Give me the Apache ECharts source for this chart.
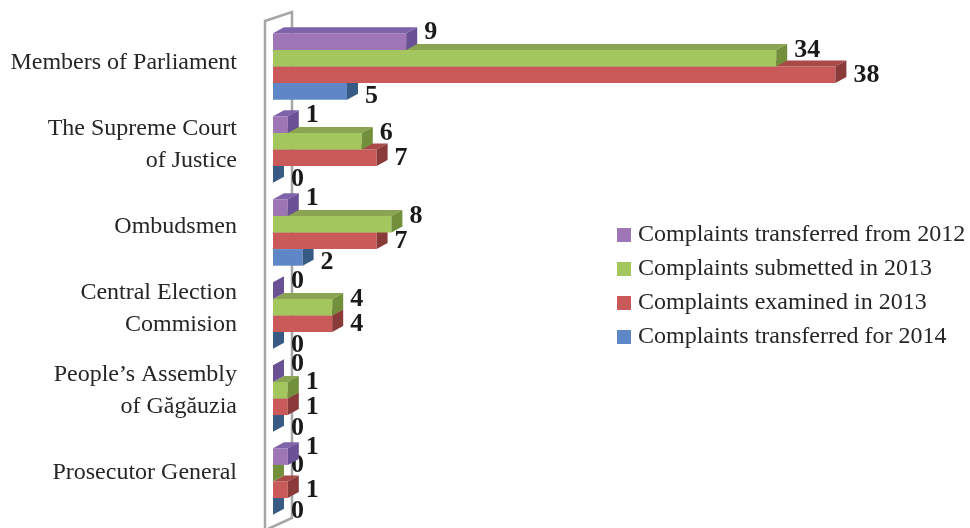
<!DOCTYPE html>
<html>
<head>
<meta charset="utf-8">
<script src="https://cdn.jsdelivr.net/npm/echarts@6/dist/echarts.min.js"></script>
<style>
  html, body { margin: 0; padding: 0; background: #ffffff; }
  #chart { width: 970px; height: 528px; }
</style>
</head>
<body>
<div id="chart"></div>
<script>
// Complaints handled, by institution
const categories = [
  'Members of Parliament',
  'The Supreme Court\nof Justice',
  'Ombudsmen',
  'Central Election\nCommision',
  'People\u2019s Assembly\nof G\u0103g\u0103uzia',
  'Prosecutor General'
];
const seriesNames = [
  'Complaints transferred from 2012',
  'Complaints submetted in 2013',
  'Complaints examined in 2013',
  'Complaints transferred for 2014'
];
const transferredFrom2012 = [9, 1, 1, 0, 0, 1];
const submitted2013       = [34, 6, 8, 4, 1, 0];
const examined2013        = [38, 7, 7, 4, 1, 1];
const transferredFor2014  = [5, 0, 2, 0, 0, 0];

const seriesValues = [transferredFrom2012, submitted2013, examined2013, transferredFor2014];

// face shades for each bar colour: front, top, side
const palette = [
  { front: '#9f76b5', top: '#7e63aa', side: '#6a5196' },
  { front: '#a3c65f', top: '#8ba452', side: '#72903c' },
  { front: '#c95a59', top: '#a84a48', side: '#8b3a3a' },
  { front: '#5f87c7', top: '#4a6e9e', side: '#375b85' }
];
const labelShift = [-9, -8, 0, 5];
const DEPTH_X = 11, DEPTH_Y = -6;
const GRID = { left: 273, top: 25, width: 592, height: 498 };
// the category names sit on the wall's middle depth, slightly above the bars
const LABEL_GRID = { left: 273, top: 22, width: 592, height: 492 };
const WALL = '#a6a6a6';
const SERIF = '"Liberation Serif", "Times New Roman", serif';

function barRenderer(idx) {
  return function (params, api) {
    const cat = api.value(0);
    const val = api.value(1);
    const base = api.coord([0, cat]);
    const end = api.coord([val, cat]);
    const band = api.size([0, 1])[1];
    const groupH = band * 0.8;
    const h = groupH / 4;
    const y0 = base[1] - groupH / 2 + idx * h;
    const y1 = y0 + h;
    const x0 = base[0];
    const x1 = end[0];
    const c = palette[idx];
    const children = [];
    if (x1 > x0) {
      children.push({
        type: 'rect',
        shape: { x: x0, y: y0, width: x1 - x0, height: h },
        style: { fill: c.front }
      });
      children.push({
        type: 'polygon',
        shape: { points: [[x0, y0], [x1, y0], [x1 + DEPTH_X, y0 + DEPTH_Y], [x0 + DEPTH_X, y0 + DEPTH_Y]] },
        style: { fill: c.top }
      });
    }
    children.push({
      type: 'polygon',
      shape: { points: [[x1, y0], [x1, y1], [x1 + DEPTH_X, y1 + DEPTH_Y], [x1 + DEPTH_X, y0 + DEPTH_Y]] },
      style: { fill: c.side }
    });
    children.push({
      type: 'text',
      style: {
        text: String(val),
        x: x1 + 18,
        y: y0 + h / 2 + labelShift[idx],
        align: 'left',
        verticalAlign: 'middle',
        font: 'bold 26px ' + SERIF,
        fill: '#1a1a1a'
      },
      z2: 10
    });
    return { type: 'group', children: children };
  };
}

const series = seriesNames.map(function (name, i) {
  return {
    type: 'custom',
    name: name,
    z: 5 - i,
    xAxisIndex: 0,
    yAxisIndex: 0,
    itemStyle: { color: palette[i].front },
    renderItem: barRenderer(i),
    encode: { x: 1, y: 0 },
    data: seriesValues[i].map(function (v, k) { return [k, v]; })
  };
});

// thin back wall drawn as an outline behind the bars
const wallFrontX = GRID.left - 8;
const wallBackX = GRID.left + 19;
const wallTop = GRID.top - 4;
const wallBackTop = GRID.top - 13;
const wallBottom = GRID.top + GRID.height + 6;
const wallBackBottom = GRID.top + GRID.height - 5;

const chart = echarts.init(document.getElementById('chart'));
chart.setOption({
  backgroundColor: '#ffffff',
  animation: false,
  grid: [
    { left: GRID.left, top: GRID.top, width: GRID.width, height: GRID.height },
    { left: LABEL_GRID.left, top: LABEL_GRID.top, width: LABEL_GRID.width, height: LABEL_GRID.height }
  ],
  xAxis: [
    { type: 'value', min: 0, max: 40, show: false, gridIndex: 0 },
    { type: 'value', min: 0, max: 40, show: false, gridIndex: 1 }
  ],
  yAxis: [
    {
      type: 'category',
      gridIndex: 0,
      data: categories,
      inverse: true,
      axisLine: { show: false },
      axisTick: { show: false },
      splitLine: { show: false },
      axisLabel: { show: false }
    },
    {
      type: 'category',
      gridIndex: 1,
      data: categories,
      inverse: true,
      axisLine: { show: false },
      axisTick: { show: false },
      splitLine: { show: false },
      axisLabel: {
        margin: 36,
        color: '#262626',
        fontFamily: SERIF,
        fontSize: 24,
        lineHeight: 32,
        align: 'right'
      }
    }
  ],
  legend: {
    orient: 'vertical',
    left: 612,
    top: 218,
    icon: 'rect',
    itemWidth: 14,
    itemHeight: 14,
    itemGap: 10,
    textStyle: {
      color: '#262626',
      fontFamily: SERIF,
      fontSize: 24,
      lineHeight: 24,
      padding: [0, 0, 0, 2]
    },
    data: seriesNames
  },
  graphic: [
    {
      type: 'polyline',
      z: 0,
      shape: { points: [[wallFrontX, wallBottom + 10], [wallFrontX, wallTop], [wallBackX, wallBackTop], [wallBackX, wallBackBottom], [wallFrontX + 3, wallBottom]] },
      style: { stroke: WALL, lineWidth: 2.5, fill: null }
    }
  ],
  series: series
});
</script>
</body>
</html>
